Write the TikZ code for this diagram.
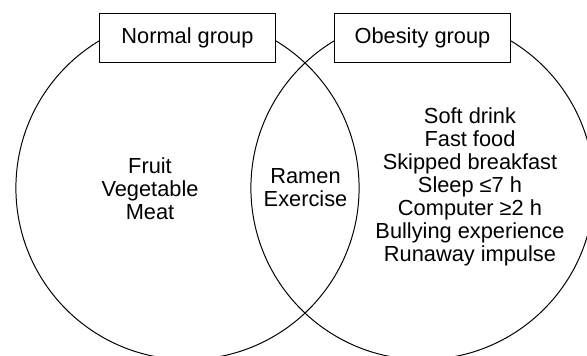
\documentclass[tikz,border=0pt]{standalone}
\usepackage{fontspec}
\setmainfont{Liberation Sans}
\usetikzlibrary{positioning}

\begin{document}
\begin{tikzpicture}[x=0.025cm, y=-0.025cm, line width=0.7pt,
    font=\fontsize{15.5}{16.3}\selectfont,
    group/.style={draw, fill=white, minimum width=4.375cm, minimum height=1.225cm, inner sep=0pt},
    items/.style={align=center}]
      \useasboundingbox (0,0) rectangle (587,356);
      \clip (0,0) rectangle (587,356);

      % the two sets
      \draw (187.5,188) circle (171.6);
      \draw (422.5,188) circle (171.6);

      % set titles
      \node[group] (normal) at (187.5,37.5) {Normal group};
      \node[group] (obesity) at (422.5,37.5) {Obesity group};

      % contents
      \node[items] (normalonly) at (150,189) {Fruit\\Vegetable\\Meat};
      \node[items] (both) at (305.5,188) {Ramen\\Exercise};
      \node[items] (obesityonly) at (470,187) {Soft drink\\Fast food\\Skipped breakfast\\Sleep ≤7 h\\Computer ≥2 h\\Bullying experience\\Runaway impulse};
    \end{tikzpicture}
\end{document}
